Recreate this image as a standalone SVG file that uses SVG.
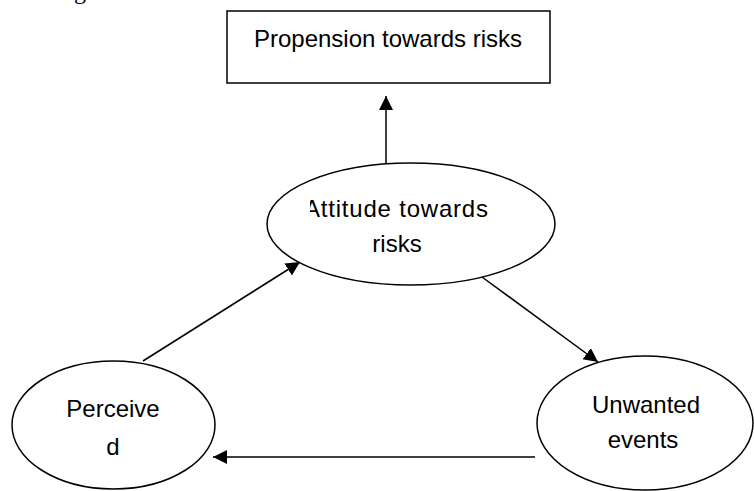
<svg xmlns="http://www.w3.org/2000/svg" width="754" height="491" viewBox="0 0 754 491">
<style>
.shape{fill:#fff;stroke:#000;stroke-width:1.5}
.lbl{font-family:"Liberation Sans",Arial,sans-serif;font-size:24px;fill:#000}
.conn{stroke:#000;stroke-width:1.5;fill:none}
</style>
<defs>
<marker id="ah" markerUnits="userSpaceOnUse" markerWidth="15" markerHeight="15" refX="14" refY="7" orient="auto">
<path d="M0,0 L14,7 L0,14 z" fill="#000"/>
</marker>
<clipPath id="attClip"><rect x="310" y="160" width="250" height="130"/></clipPath>
</defs>
<rect width="754" height="491" fill="#fff"/>
<text x="74" y="-1" font-family="Liberation Serif,serif" font-size="24" fill="#000">g</text>
<g id="connectors">
<line class="conn" x1="386" y1="164" x2="386" y2="96" marker-end="url(#ah)"/>
<line class="conn" x1="143" y1="361" x2="300" y2="262" marker-end="url(#ah)"/>
<line class="conn" x1="482" y1="277" x2="598" y2="362" marker-end="url(#ah)"/>
<line class="conn" x1="535" y1="457" x2="213" y2="457" marker-end="url(#ah)"/>
</g>
<g id="propension">
<rect class="shape" x="227" y="11" width="323" height="72"/>
<text class="lbl" x="388" y="47" text-anchor="middle">Propension towards risks</text>
</g>
<g id="attitude">
<ellipse class="shape" cx="411" cy="224" rx="144" ry="61"/>
<g clip-path="url(#attClip)">
<text class="lbl" x="304" y="217" textLength="184">Attitude towards</text>
</g>
<text class="lbl" x="397" y="252" text-anchor="middle">risks</text>
</g>
<g id="perceived">
<ellipse class="shape" cx="113.5" cy="425" rx="101.5" ry="64"/>
<text class="lbl" x="113" y="417" text-anchor="middle">Perceive</text>
<text class="lbl" x="113" y="455" text-anchor="middle">d</text>
</g>
<g id="unwanted">
<ellipse class="shape" cx="645" cy="423" rx="108" ry="67"/>
<text class="lbl" x="646" y="413" text-anchor="middle">Unwanted</text>
<text class="lbl" x="643" y="448" text-anchor="middle">events</text>
</g>
</svg>
